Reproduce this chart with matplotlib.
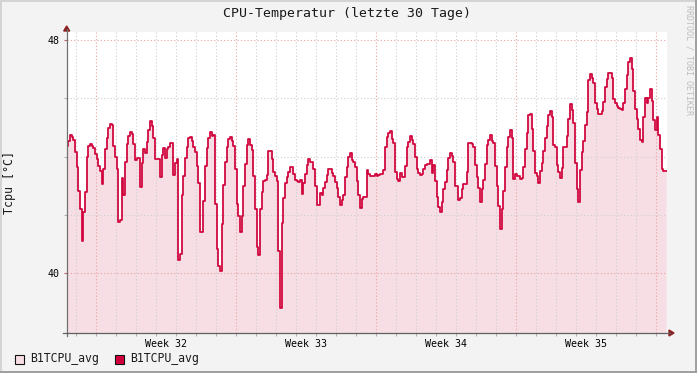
import numpy as np
import matplotlib
matplotlib.use('Agg')
import matplotlib.pyplot as plt
from matplotlib.lines import Line2D
from matplotlib.patches import Rectangle, Polygon

W, H = 697, 373

# 2-hour averages (12 per day), 30 days, in blocks of 5 days  [°C]
days_01_05 = [
    44.37, 44.52, 44.73, 44.66, 44.57, 44.17, 43.63, 42.83, 42.21, 41.09, 42.11, 42.79,
    44.00, 44.37, 44.44, 44.37, 44.28, 44.08, 43.90, 43.68, 43.49, 43.05, 43.56, 44.25,
    44.65, 44.97, 45.13, 45.07, 44.35, 44.00, 43.57, 41.74, 41.82, 43.25, 42.67, 43.82,
    44.44, 44.72, 44.85, 44.76, 44.44, 43.88, 43.96, 43.94, 42.97, 43.77, 44.25, 44.11,
    44.51, 44.90, 45.21, 45.06, 44.63, 43.90, 43.90, 43.90, 43.31, 44.05, 44.28, 43.94]
days_06_10 = [
    44.26, 44.34, 44.48, 44.48, 43.35, 43.77, 43.90, 40.45, 40.64, 42.67, 43.33, 43.94,
    44.34, 44.65, 44.66, 44.53, 44.34, 44.17, 43.68, 43.08, 41.42, 41.42, 42.47, 43.68,
    44.29, 44.63, 44.83, 44.70, 44.73, 42.36, 40.81, 40.24, 40.08, 41.68, 43.01, 43.80,
    44.32, 44.61, 44.66, 44.53, 44.37, 43.57, 42.36, 41.96, 41.42, 41.96, 42.99, 43.74,
    44.40, 44.59, 44.41, 44.22, 43.33, 42.21, 40.91, 40.61, 42.19, 42.77, 43.17, 43.19]
days_11_15 = [
    43.35, 44.18, 44.20, 43.90, 43.48, 43.33, 43.17, 40.77, 38.79, 41.73, 42.57, 43.08,
    43.30, 43.46, 43.63, 43.63, 43.39, 43.19, 43.16, 43.11, 43.19, 42.70, 43.08, 43.39,
    43.70, 43.90, 43.80, 43.80, 43.56, 42.99, 42.34, 42.34, 42.74, 42.68, 42.91, 43.14,
    43.35, 43.56, 43.56, 43.42, 43.33, 43.14, 42.91, 42.62, 42.34, 42.50, 42.67, 43.30,
    43.63, 43.97, 44.13, 43.88, 43.80, 43.63, 43.17, 42.68, 42.22, 42.53, 42.62, 42.62]
days_16_20 = [
    43.53, 43.39, 43.33, 43.33, 43.33, 43.39, 43.33, 43.35, 43.39, 43.39, 43.54, 44.32,
    44.66, 44.80, 44.88, 44.59, 44.45, 43.48, 43.22, 43.17, 43.45, 43.29, 43.29, 43.68,
    44.34, 44.49, 44.70, 44.57, 44.42, 43.97, 43.56, 43.45, 43.35, 43.40, 43.56, 43.72,
    43.74, 43.74, 43.88, 43.45, 43.70, 43.17, 42.61, 42.28, 42.08, 42.43, 42.87, 43.13,
    43.53, 43.94, 44.11, 44.02, 43.80, 42.99, 42.98, 42.49, 42.57, 42.87, 43.06, 43.05]
days_21_25 = [
    43.48, 44.45, 44.48, 44.42, 44.32, 43.70, 43.30, 42.91, 42.45, 42.87, 43.18, 43.73,
    44.40, 44.57, 44.73, 44.53, 44.45, 43.66, 42.98, 42.30, 41.50, 42.19, 42.81, 43.63,
    44.34, 44.66, 44.91, 44.63, 43.22, 43.39, 43.33, 43.33, 43.23, 43.25, 43.63, 44.25,
    44.80, 45.41, 45.45, 44.96, 44.18, 43.42, 43.34, 43.08, 43.51, 43.77, 44.18, 44.65,
    45.04, 45.43, 45.56, 45.35, 44.40, 44.34, 43.72, 43.46, 43.25, 43.60, 44.32, 44.32]
days_26_30 = [
    44.70, 45.28, 45.79, 45.59, 45.14, 43.77, 42.87, 42.43, 43.53, 44.14, 44.52, 45.07,
    45.53, 46.62, 46.82, 46.71, 46.51, 45.83, 45.64, 45.47, 45.47, 45.56, 45.87, 46.38,
    46.65, 46.86, 46.86, 46.71, 45.96, 45.85, 45.75, 45.68, 45.62, 45.60, 45.85, 46.31,
    46.80, 47.25, 47.37, 46.99, 46.24, 45.62, 45.28, 44.93, 44.57, 44.49, 45.37, 46.00,
    45.85, 46.00, 46.31, 45.91, 45.25, 44.91, 45.35, 44.73, 44.25, 43.56, 43.51, 43.51]

title = 'CPU-Temperatur (letzte 30 Tage)'
ylabel = 'Tcpu [°C]'
week_labels = ['Week 32', 'Week 33', 'Week 34', 'Week 35']
legend_labels = ['B1TCPU_avg', 'B1TCPU_avg']
y_major = [40, 48]
y_minor = [42, 44, 46]
samples_per_day = 12
n_days = 30
first_week_start = 1.45   # days after start of the window
y_range = (37.94, 48.275)

FILL = '#F6DEE4'
LINE = '#D0003A'
MONO = 'DejaVu Sans Mono'

temps = np.concatenate([days_01_05, days_06_10, days_11_15,
                        days_16_20, days_21_25, days_26_30])
t = np.arange(len(temps) + 1) / samples_per_day
vals = np.append(temps, temps[-1])

fig = plt.figure(figsize=(W / 100, H / 100), dpi=100, facecolor='#F3F3F3')


def fx(px):
    return px / W


def fy(py):
    return 1 - py / H


ax = fig.add_axes([fx(66.67), fy(333), 600 / W, 301 / H])
ax.set_facecolor('white')
ax.set_xlim(0, n_days)
ax.set_ylim(*y_range)
for s in ax.spines.values():
    s.set_visible(False)

ax.fill_between(t, vals, y_range[0] - 5, step='post', color=FILL, lw=0, zorder=1)
ax.step(t, vals, where='post', color=LINE, lw=1.25, zorder=4)

# grid
day_lines = np.arange(first_week_start - 1, n_days, 1.0)
week_lines = np.arange(first_week_start, n_days, 7.0)
dots = (0, (1, 2))
for d in day_lines:
    is_week = np.min(np.abs(week_lines - d)) < 1e-6
    ax.axvline(d, color='#E9A3A3' if is_week else '#CFCFCF', ls=dots, lw=0.8, zorder=2)
for yv in y_minor:
    ax.axhline(yv, color='#CFCFCF', ls=dots, lw=0.8, zorder=2)
for yv in y_major:
    ax.axhline(yv, color='#E9A3A3', ls=dots, lw=0.8, zorder=2)

# ticks
label_pos = week_lines[:len(week_labels)] + 3.5
ax.set_xticks(label_pos)
ax.set_xticklabels(week_labels, fontsize=7.2, family=MONO)
ax.set_xticks(day_lines, minor=True)
ax.tick_params(axis='x', which='major', length=0, pad=4.2)
ax.tick_params(axis='x', which='minor', length=2.2, width=0.8, color='#B0B0B0', direction='out')
for tk, d in zip(ax.xaxis.get_minor_ticks(), day_lines):
    if np.min(np.abs(week_lines - d)) < 1e-6:
        tk.tick1line.set_color('#C06060')
ax.set_yticks(y_major)
ax.set_yticklabels([str(v) for v in y_major], fontsize=7.2, family=MONO)
ax.set_yticks(y_minor, minor=True)
ax.tick_params(axis='y', which='major', length=2.2, width=0.8, color='#C06060', pad=3.0)
ax.tick_params(axis='y', which='minor', length=2.2, width=0.8, color='#B0B0B0')

# axis lines and arrows
fig.add_artist(Line2D([fx(66.67), fx(66.67)], [fy(336), fy(29)], color='#707070',
                      lw=0.9, transform=fig.transFigure))
fig.add_artist(Line2D([fx(63), fx(670)], [fy(333), fy(333)], color='#606060',
                      lw=0.9, transform=fig.transFigure))
fig.add_artist(Polygon([[fx(66.67), fy(26)], [fx(63.7), fy(31)], [fx(69.7), fy(31)]],
                       closed=True, color='#8B2020', transform=fig.transFigure))
fig.add_artist(Polygon([[fx(674), fy(333)], [fx(669), fy(330)], [fx(669), fy(336)]],
                       closed=True, color='#8B2020', transform=fig.transFigure))

# texts
fig.text(fx(347), fy(14), title, ha='center', va='center', fontsize=9.5, family=MONO,
         color='#1a1a1a')
fig.text(fx(10), fy(182), ylabel, ha='center', va='center', rotation=90, fontsize=8.4,
         family=MONO, color='#1a1a1a')
fig.text(fx(689), fy(60), 'RRDTOOL / TOBI OETIKER', ha='center', va='center',
         rotation=270, fontsize=6.0, family=MONO, color='#BDBDBD')

# legend
for i, (lab, col) in enumerate(zip(legend_labels, [FILL, LINE])):
    x0 = 15 + 100 * i
    fig.add_artist(Rectangle((fx(x0), fy(363.5)), 8.5 / W, 8.5 / H, facecolor=col,
                             edgecolor='#111111', lw=0.8, transform=fig.transFigure))
    fig.text(fx(x0 + 15), fy(358.5), lab, ha='left', va='center', fontsize=8.3,
             family=MONO, color='#1a1a1a')

# frame
fig.add_artist(Rectangle((0, fy(1.5)), 1, 1.5 / H, color='#D4D4D4', lw=0,
                         transform=fig.transFigure))
fig.add_artist(Rectangle((0, 0), 1.5 / W, 1, color='#D4D4D4', lw=0,
                         transform=fig.transFigure))
fig.add_artist(Rectangle((fx(695), 0), 2 / W, 1, color='#A0A0A0', lw=0,
                         transform=fig.transFigure))
fig.add_artist(Rectangle((0, 0), 1, 2 / H, color='#A0A0A0', lw=0,
                         transform=fig.transFigure))

fig.savefig('out.png', dpi=100, facecolor=fig.get_facecolor())
